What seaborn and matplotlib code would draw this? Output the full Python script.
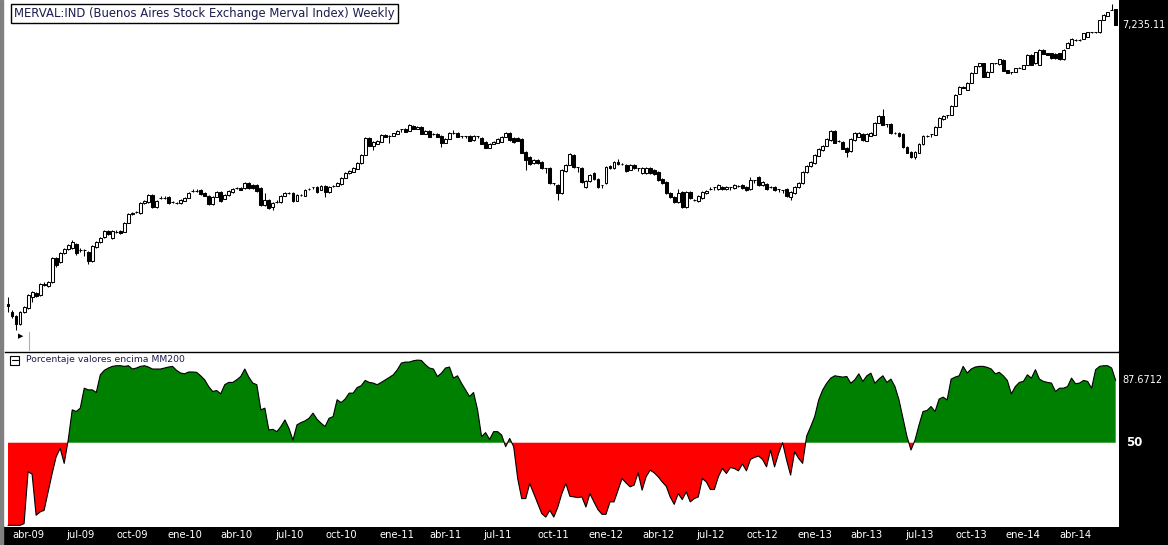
import numpy as np
import pandas as pd
import seaborn as sns
import matplotlib.pyplot as plt
from matplotlib.patches import Rectangle
from matplotlib.lines import Line2D

sns.set_theme(style='white')
plt.rcParams['font.family'] = ['DejaVu Sans']

# weekly candles (log price scale)
opens = [1030, 978, 947, 898, 976, 1004, 1085, 1114, 1099, 1180, 1170, 1203, 1420, 1385, 1474, 1514, 1525, 1569, 1500, 1504,
         1482, 1393, 1536, 1591, 1647, 1718, 1636, 1700, 1718, 1706, 1818, 1940, 1955, 1947, 2089, 2103, 2208, 2031, 2160, 2165,
         2178, 2100, 2092, 2089, 2118, 2163, 2265, 2271, 2287, 2240, 2193, 2074, 2178, 2255, 2148, 2208, 2255, 2315, 2319, 2319,
         2401, 2368, 2368, 2319, 2059, 2133, 2031, 2100, 2103, 2193, 2235, 2240, 2118, 2205, 2193, 2300, 2335, 2335, 2287, 2352,
         2255, 2345, 2352, 2385, 2486, 2575, 2593, 2648, 2761, 2920, 3288, 3109, 3153, 3197, 3357, 3334, 3334, 3381, 3501, 3501,
         3452, 3575, 3501, 3550, 3381, 3452, 3375, 3381, 3334, 3175, 3265, 3404, 3404, 3334, 3334, 3334, 3242, 3334, 3288, 3197,
         3066, 3153, 3175, 3197, 3311, 3404, 3288, 3288, 3265, 2982, 2879, 2761, 2819, 2780, 2667, 2667, 2401, 2368, 2240, 2611,
         2723, 2920, 2685, 2667, 2335, 2435, 2575, 2469, 2368, 2401, 2704, 2667, 2780, 2745, 2723, 2629, 2723, 2667, 2575, 2575,
         2667, 2629, 2593, 2469, 2418, 2240, 2178, 2103, 2255, 2031, 2255, 2130, 2118, 2163, 2240, 2300, 2335, 2303, 2335, 2303,
         2335, 2319, 2350, 2368, 2335, 2303, 2452, 2504, 2368, 2385, 2330, 2335, 2303, 2287, 2303, 2178, 2240, 2335, 2401, 2593,
         2704, 2761, 2900, 3023, 3109, 3242, 3452, 3215, 3197, 3066, 3002, 3242, 3311, 3381, 3220, 3334, 3357, 3650, 3833, 3624,
         3624, 3400, 3404, 3381, 3088, 2982, 2879, 2961, 3153, 3330, 3381, 3357, 3550, 3754, 3860, 3860, 4110, 4470, 4693, 4596,
         4826, 5176, 5420, 5534, 5033, 5212, 5530, 5496, 5667, 5285, 5212, 5212, 5355, 5322, 5472, 5868, 5534, 5472, 6076, 5950,
         5950, 5909, 5950, 5690, 6162, 6292, 6510, 6516, 6562, 6653, 6880, 6883, 6883, 7492, 7704, 8034, 8090]
highs = [1080, 990, 955, 985, 1020, 1110, 1130, 1125, 1195, 1200, 1215, 1430, 1430, 1485, 1525, 1570, 1610, 1580, 1520, 1515,
         1495, 1560, 1605, 1650, 1730, 1730, 1730, 1725, 1730, 1830, 1945, 1965, 1980, 2100, 2130, 2225, 2225, 2130, 2185, 2185,
         2195, 2120, 2105, 2145, 2175, 2255, 2300, 2295, 2300, 2250, 2205, 2190, 2270, 2270, 2220, 2285, 2315, 2340, 2330, 2415,
         2415, 2380, 2380, 2330, 2240, 2145, 2100, 2125, 2205, 2255, 2260, 2255, 2220, 2225, 2300, 2320, 2340, 2345, 2365, 2365,
         2345, 2370, 2415, 2500, 2590, 2625, 2680, 2775, 2935, 3300, 3300, 3210, 3235, 3370, 3370, 3360, 3415, 3465, 3505, 3515,
         3625, 3590, 3565, 3565, 3465, 3465, 3400, 3395, 3345, 3280, 3420, 3480, 3420, 3340, 3340, 3345, 3345, 3340, 3300, 3210,
         3165, 3210, 3280, 3325, 3420, 3420, 3300, 3300, 3280, 2995, 2890, 2835, 2835, 2795, 2672, 2680, 2405, 2380, 2640, 2735,
         2955, 2935, 2690, 2680, 2450, 2555, 2590, 2480, 2375, 2700, 2720, 2795, 2830, 2765, 2735, 2735, 2735, 2672, 2680, 2680,
         2680, 2640, 2605, 2480, 2430, 2250, 2190, 2303, 2270, 2270, 2270, 2150, 2205, 2270, 2285, 2330, 2340, 2380, 2350, 2350,
         2340, 2385, 2375, 2380, 2345, 2500, 2457, 2515, 2430, 2395, 2355, 2345, 2308, 2292, 2315, 2270, 2350, 2415, 2605, 2720,
         2800, 2935, 3060, 3125, 3280, 3470, 3470, 3240, 3210, 3080, 3280, 3420, 3420, 3395, 3395, 3420, 3665, 3850, 4025, 3630,
         3640, 3425, 3420, 3395, 3100, 2995, 2995, 3165, 3350, 3355, 3386, 3565, 3795, 3850, 3865, 4125, 4455, 4710, 4710, 4845,
         5195, 5440, 5555, 5555, 5230, 5555, 5560, 5710, 5690, 5300, 5217, 5375, 5385, 5490, 5890, 5890, 6010, 6100, 6100, 5970,
         5970, 5930, 5970, 6100, 6405, 6585, 6545, 6540, 6860, 6905, 6910, 6905, 7515, 7785, 7945, 8406, 8110]
lows = [975, 937, 861, 891, 970, 998, 1046, 1085, 1092, 1170, 1160, 1195, 1340, 1375, 1465, 1505, 1515, 1450, 1480, 1440,
        1360, 1380, 1525, 1580, 1640, 1670, 1625, 1690, 1685, 1700, 1810, 1925, 1945, 1940, 2080, 2095, 2017, 2020, 2145, 2140,
        2080, 2085, 2075, 2080, 2110, 2155, 2250, 2250, 2215, 2185, 2065, 2065, 2170, 2105, 2140, 2200, 2245, 2300, 2280, 2310,
        2310, 2310, 2260, 2045, 2050, 2003, 1990, 2090, 2095, 2185, 2225, 2105, 2110, 2195, 2185, 2290, 2300, 2245, 2280, 2178,
        2245, 2335, 2345, 2375, 2478, 2565, 2585, 2640, 2750, 2910, 3100, 3023, 3145, 3190, 3300, 3175, 3325, 3370, 3430, 3420,
        3440, 3490, 3490, 3370, 3370, 3300, 3365, 3300, 3088, 3165, 3255, 3390, 3300, 3290, 3290, 3210, 3230, 3290, 3145, 3055,
        3055, 3145, 3165, 3190, 3300, 3230, 3185, 3210, 2950, 2629, 2730, 2750, 2750, 2655, 2575, 2390, 2360, 2133, 2230, 2600,
        2715, 2675, 2593, 2405, 2325, 2425, 2455, 2325, 2320, 2390, 2655, 2655, 2730, 2725, 2600, 2620, 2655, 2610, 2565, 2565,
        2565, 2545, 2440, 2390, 2230, 2165, 2090, 2090, 2017, 2017, 2150, 2110, 2105, 2150, 2230, 2285, 2290, 2290, 2290, 2290,
        2290, 2305, 2335, 2305, 2275, 2290, 2400, 2355, 2355, 2290, 2315, 2275, 2260, 2245, 2180, 2135, 2230, 2325, 2390, 2580,
        2690, 2750, 2890, 3010, 3100, 3230, 3165, 3200, 3035, 2879, 2990, 3230, 3300, 3230, 3210, 3325, 3345, 3640, 3590, 3550,
        3390, 3385, 3320, 3075, 2950, 2860, 2830, 2950, 3140, 3315, 3300, 3345, 3540, 3740, 3780, 3850, 4100, 4455, 4645, 4580,
        4810, 5160, 5400, 5015, 5015, 5195, 5510, 5480, 5230, 5160, 5140, 5195, 5340, 5305, 5455, 5455, 5515, 5455, 5890, 5850,
        5710, 5710, 5670, 5670, 6140, 6270, 6490, 6490, 6540, 6630, 6860, 6860, 6860, 7470, 7680, 8020, 7220]
closes = [1020, 951, 898, 976, 1011, 1099, 1121, 1092, 1186, 1186, 1203, 1420, 1355, 1474, 1514, 1558, 1591, 1474, 1504, 1500,
          1393, 1547, 1591, 1636, 1718, 1683, 1718, 1706, 1694, 1818, 1934, 1947, 1961, 2089, 2118, 2208, 2031, 2118, 2165, 2160,
          2089, 2106, 2089, 2133, 2163, 2240, 2271, 2265, 2224, 2193, 2074, 2178, 2255, 2118, 2208, 2271, 2303, 2319, 2287, 2401,
          2319, 2319, 2271, 2059, 2133, 2017, 2089, 2106, 2193, 2240, 2240, 2118, 2208, 2210, 2287, 2303, 2335, 2255, 2352, 2255,
          2335, 2352, 2401, 2486, 2575, 2611, 2667, 2761, 2920, 3288, 3109, 3197, 3220, 3357, 3311, 3334, 3404, 3452, 3501, 3428,
          3600, 3501, 3550, 3381, 3452, 3311, 3381, 3311, 3175, 3265, 3404, 3398, 3311, 3334, 3334, 3220, 3334, 3334, 3153, 3066,
          3153, 3197, 3265, 3311, 3404, 3242, 3197, 3220, 2961, 2819, 2742, 2819, 2761, 2667, 2667, 2401, 2401, 2240, 2629, 2723,
          2940, 2685, 2685, 2418, 2435, 2539, 2469, 2335, 2368, 2685, 2667, 2780, 2742, 2740, 2611, 2723, 2667, 2667, 2667, 2667,
          2575, 2557, 2452, 2401, 2240, 2178, 2103, 2240, 2031, 2255, 2163, 2135, 2193, 2255, 2271, 2303, 2335, 2368, 2303, 2335,
          2335, 2368, 2355, 2319, 2287, 2452, 2452, 2368, 2418, 2303, 2335, 2287, 2303, 2287, 2193, 2255, 2335, 2401, 2593, 2704,
          2780, 2920, 3045, 3109, 3265, 3452, 3175, 3220, 3045, 2982, 3265, 3404, 3404, 3242, 3381, 3404, 3650, 3833, 3600, 3624,
          3404, 3404, 3334, 3088, 2961, 2879, 2982, 3153, 3334, 3334, 3381, 3550, 3780, 3833, 3860, 4110, 4438, 4693, 4660, 4826,
          5176, 5420, 5534, 5033, 5212, 5534, 5534, 5690, 5248, 5176, 5212, 5358, 5358, 5472, 5868, 5472, 5991, 6076, 5909, 5868,
          5730, 5730, 5690, 6076, 6382, 6562, 6516, 6510, 6835, 6883, 6883, 6880, 7492, 7758, 7921, 8034, 7235.11]

# % of stocks above their 200-day average
pct_above = [0, 0, 0, 0, 1, 32.4, 31, 6.1, 8.1, 9.1,
             20.3, 31.4, 41.5, 46.6, 37.5, 51.6, 69.9, 68.9, 70.9, 83.0,
             82.0, 82.0, 80.4, 91.1, 93.8, 95.2, 96.2, 96.6, 96.6, 96.2,
             96.6, 94.6, 95.2, 96.2, 96.6, 95.8, 94.6, 94.6, 94.6, 95.2,
             95.8, 96.2, 93.8, 92.2, 91.7, 92.8, 92.8, 92.6, 90.5, 88.1,
             84.0, 81.0, 81.6, 79.6, 85.1, 86.5, 86.5, 88.1, 90.1, 94.6,
             89.7, 86.1, 85.1, 69.9, 70.9, 57.7, 58.1, 56.7, 59.8, 63.8,
             58.7, 51.6, 60.8, 62.2, 63.2, 64.8, 67.9, 64.2, 61.8, 59.8,
             64.8, 65.8, 76.0, 74.3, 76.4, 80.0, 80.0, 83.4, 84.5, 87.7,
             86.5, 86.1, 85.1, 86.5, 88.0, 89.5, 91.1, 94.1, 98.2, 98.8,
             98.8, 99.6, 100.0, 99.8, 97.2, 95.2, 94.6, 90.1, 92.1, 95.2,
             95.8, 89.1, 90.5, 86.0, 82.0, 78.0, 80.4, 69.9, 53.7, 56.1,
             52.0, 56.7, 56.7, 54.7, 47.6, 52.6, 47.6, 28.3, 16.2, 16.2,
             25.3, 19.2, 13.1, 7.1, 5.0, 9.1, 5.0, 11.1, 19.2, 25.3,
             17.6, 17.2, 16.8, 17.2, 11.1, 19.2, 14.2, 9.5, 6.7, 6.7,
             14.2, 14.2, 21.3, 28.3, 25.7, 23.3, 24.3, 31.8, 21.3, 29.4,
             33.4, 31.8, 29.4, 26.3, 23.7, 17.2, 12.7, 19.2, 15.6, 20.2,
             14.2, 16.2, 17.2, 28.3, 26.3, 21.7, 21.7, 29.4, 34.4, 31.4,
             35.0, 34.4, 33.0, 37.1, 33.0, 39.9, 41.1, 41.9, 39.9, 35.4,
             45.5, 35.4, 43.5, 50.0, 39.5, 30.4, 44.5, 40.5, 37.5, 54.1,
             59.7, 65.8, 75.9, 82.0, 86.0, 89.1, 90.5, 90.1, 89.7, 90.1,
             86.0, 88.1, 91.7, 87.1, 90.5, 92.1, 86.0, 88.5, 90.5, 86.5,
             88.5, 84.0, 76.0, 64.8, 53.7, 45.6, 51.6, 60.8, 68.9, 69.5,
             71.9, 68.9, 76.4, 77.6, 75.9, 88.5, 89.7, 90.5, 96.2, 92.2,
             94.6, 95.8, 96.2, 96.2, 95.6, 94.6, 91.7, 92.6, 90.5, 87.7,
             79.6, 84.0, 86.5, 87.1, 91.1, 89.1, 94.2, 88.5, 87.1, 86.5,
             86.1, 81.0, 83.0, 83.0, 84.0, 89.1, 85.7, 86.1, 87.7, 87.1,
             83.0, 94.2, 96.2, 96.6, 96.6, 95.2, 87.6712]

week_start = '2009-02-27'
month_abbr = {1: 'ene', 4: 'abr', 7: 'jul', 10: 'oct'}
title = 'MERVAL:IND (Buenos Aires Stock Exchange Merval Index) Weekly'
sub_title = 'Porcentaje valores encima MM200'

df = pd.DataFrame({'open': opens, 'high': highs, 'low': lows, 'close': closes, 'pct': pct_above})
df['date'] = pd.date_range(week_start, periods=len(df), freq='W-FRI')
df['x'] = np.arange(len(df))

W, H = 1168, 545
fig = plt.figure(figsize=(W / 100, H / 100), dpi=100, facecolor='white')


def fx(px):
    return px / W


def fy(py):
    return 1 - py / H


xlim = (-0.75, 276.7)

# price panel
ax = fig.add_axes([fx(5), fy(351), (1118.5 - 5) / W, 351 / H])
up = df['close'] >= df['open']
ax.vlines(df['x'], df['low'], df['high'], color='black', lw=0.75, zorder=2)
ax.bar(df['x'], (df['close'] - df['open']).abs(), bottom=df[['open', 'close']].min(axis=1),
       width=0.72, color=np.where(up, 'white', 'black'), edgecolor='black', linewidth=0.75, zorder=3)
ax.set_yscale('log')
ax.set_ylim(743, 8614)
ax.set_xlim(*xlim)
ax.set_xticks([])
ax.set_yticks([])
ax.minorticks_off()
for s in ax.spines.values():
    s.set_visible(False)
ax.annotate(f"{df['close'].iloc[-1]:,.2f}", xy=(1, df['close'].iloc[-1]), xycoords=('axes fraction', 'data'),
            xytext=(4, 0), textcoords='offset pixels', ha='left', va='center', color='white', fontsize=7)

# breadth panel
ax2 = fig.add_axes([fx(5), fy(527), (1118.5 - 5) / W, (527 - 352) / H])
ax2.fill_between(df['x'], df['pct'], 50, where=df['pct'] >= 50, interpolate=True, color='#008000', lw=0)
ax2.fill_between(df['x'], df['pct'], 50, where=df['pct'] <= 50, interpolate=True, color='#ff0000', lw=0)
sns.lineplot(data=df, x='x', y='pct', ax=ax2, color='black', lw=0.8)
ax2.set_xlim(*xlim)
ax2.set_ylim(-1, 104.9)
ax2.set_xlabel('')
ax2.set_ylabel('')
ax2.set_yticks([])
for side in ['left', 'right', 'bottom']:
    ax2.spines[side].set_visible(False)
ax2.spines['top'].set_color('black')
ax2.spines['top'].set_linewidth(1.0)

# quarter labels at the first week of jan/apr/jul/oct
first = df.groupby(df['date'].dt.to_period('M')).head(1)
first = first[first['date'].dt.month.isin(month_abbr.keys())]
ax2.set_xticks(first['x'])
ax2.set_xticklabels([f"{month_abbr[d.month]}-{d:%y}" for d in first['date']])
ax2.tick_params(axis='x', length=0, pad=2.5, labelsize=7.2, labelcolor='white')

ax2.annotate(f"{df['pct'].iloc[-1]:.4f}", xy=(1, df['pct'].iloc[-1]), xycoords=('axes fraction', 'data'),
             xytext=(4, 0), textcoords='offset pixels', ha='left', va='center', color='white', fontsize=7)
ax2.annotate('50', xy=(1, 50), xycoords=('axes fraction', 'data'),
             xytext=(8, 0), textcoords='offset pixels', ha='left', va='center', color='white',
             fontsize=8.5, fontweight='bold')

# frame: black price scale on the right, date strip at the bottom, grey edge left
fig.add_artist(Rectangle((fx(1118.5), 0), 1 - fx(1118.5), 1, transform=fig.transFigure,
                         color='black', zorder=0))
fig.add_artist(Rectangle((0, 0), 1, 18 / H, transform=fig.transFigure, color='black', zorder=0))
fig.add_artist(Rectangle((0, 0), 2.5 / W, 1, transform=fig.transFigure, color='#808080', zorder=5))
ax2.set_zorder(2)
ax.set_zorder(2)

fig.text(fx(14), fy(13.5), title, fontsize=8.4, color='#1c1c50', va='center', ha='left',
         bbox=dict(boxstyle='square,pad=0.25', fc='white', ec='black', lw=1))

# collapse box + panel name
fig.add_artist(Rectangle((fx(9.5), fy(365)), 9.5 / W, 9.5 / H, transform=fig.transFigure,
                         fill=False, ec='black', lw=0.8, zorder=6))
fig.add_artist(Line2D([fx(11.5), fx(17.5)], [fy(360.2), fy(360.2)], transform=fig.transFigure,
                      color='black', lw=0.8, zorder=6))
fig.text(fx(26), fy(360), sub_title, fontsize=6.7, color='#1c1c50', va='center', ha='left', zorder=6)

# small scroll button bottom-left of the price panel
fig.text(fx(21), fy(336), '\u25b6', fontsize=5, color='black', ha='center', va='center', zorder=6)
fig.add_artist(Line2D([fx(28.5), fx(28.5)], [fy(332), fy(350)], transform=fig.transFigure,
                      color='#b0b0b0', lw=0.8, zorder=6))

fig.savefig('out.png', dpi=100, facecolor=fig.get_facecolor())
